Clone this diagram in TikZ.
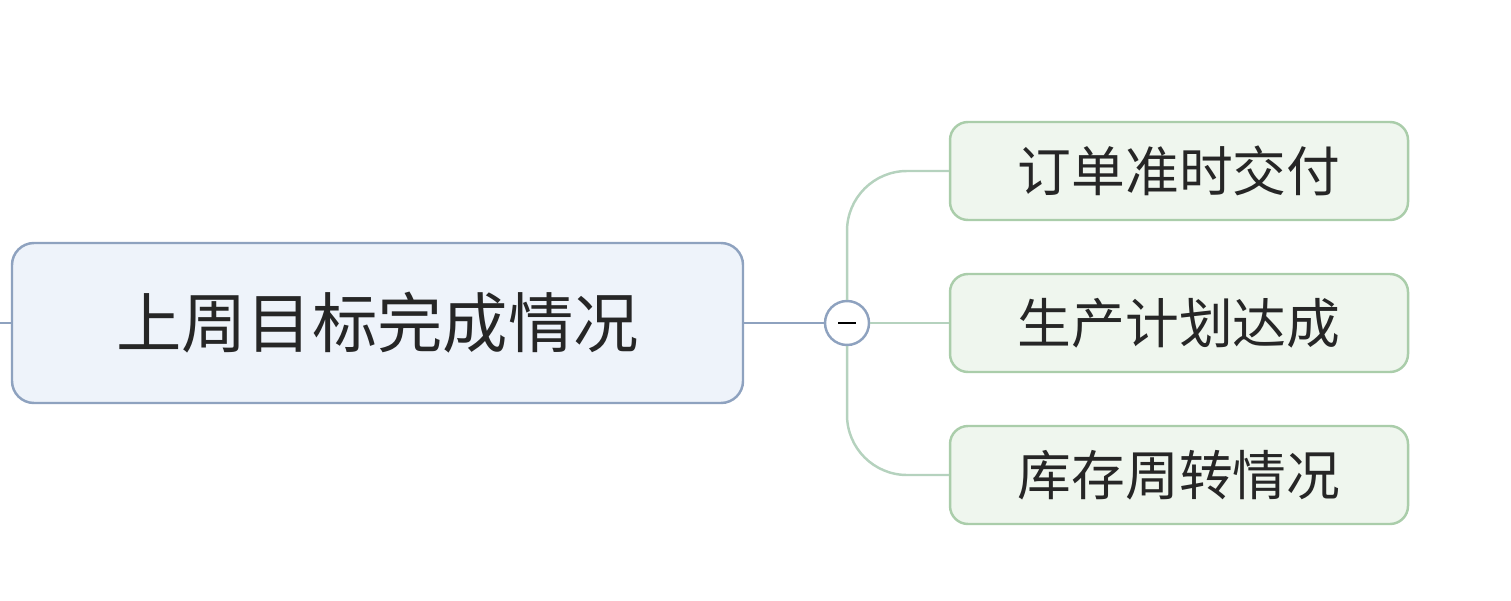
\documentclass[tikz,border=0pt]{standalone}
\usepackage{fontspec}
\setmainfont{Noto Sans CJK SC}
\usetikzlibrary{positioning}
\definecolor{rootfill}{HTML}{EEF3FA}
\definecolor{rootline}{HTML}{8EA2BF}
\definecolor{leaffill}{HTML}{EFF6EE}
\definecolor{leafline}{HTML}{AACDAA}
\definecolor{branch}{HTML}{B5D2BE}

\tikzset{
  rootbox/.style={draw=rootline, fill=rootfill, rounded corners=0.22cm, line width=0.7pt,
    minimum width=7.31cm, minimum height=1.6cm, font=\fontsize{18.6}{22}\selectfont, text=black!85},
  leafbox/.style={draw=leafline, fill=leaffill, rounded corners=0.18cm, line width=0.7pt,
    minimum width=4.58cm, minimum height=0.98cm, font=\fontsize{15.3}{18}\selectfont, text=black!85},
  link/.style={draw=branch, line width=0.7pt}
}

\begin{document}
\begin{tikzpicture}
    \useasboundingbox (0,0) rectangle (15.11,6);

    % Central topic
    \node[rootbox] (goal) at (3.775,2.77) {上周目标完成情况};
    \coordinate (inlet) at (0,2.77);
    \draw[draw=rootline, line width=0.7pt] (inlet) -- (goal.west);

    % Collapse button
    \node[circle, draw=rootline, fill=white, line width=0.7pt, minimum size=0.44cm, inner sep=0pt]
        (fold) at (8.47,2.77) {};
    \draw[line width=0.6pt] ([xshift=-0.09cm]fold.center) -- ([xshift=0.09cm]fold.center);
    \draw[draw=rootline, line width=0.7pt] (goal.east) -- (fold.west);

    % Sub topics
    \node[leafbox] (order) at (11.79,4.29) {订单准时交付};
    \node[leafbox] (plan) at (11.79,2.77) {生产计划达成};
    \node[leafbox] (stock) at (11.79,1.25) {库存周转情况};

    % Branches
    \draw[link, rounded corners=0.6cm] (fold.north) |- (order.west);
    \draw[link] (fold.east) -- (plan.west);
    \draw[link, rounded corners=0.6cm] (fold.south) |- (stock.west);
\end{tikzpicture}
\end{document}
